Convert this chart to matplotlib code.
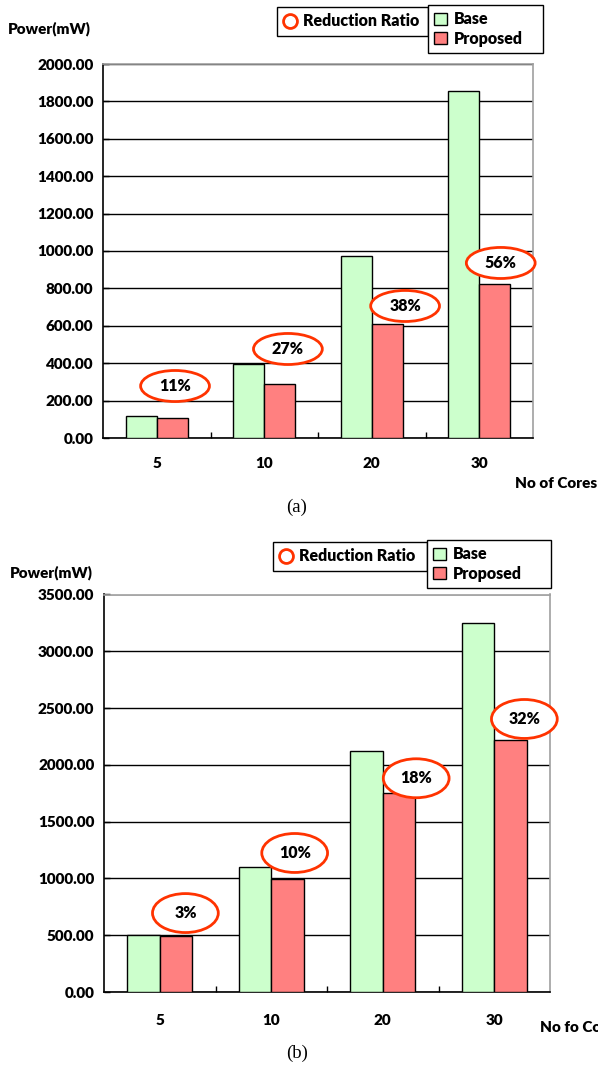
import matplotlib
matplotlib.use("Agg")
import matplotlib.pyplot as plt
import numpy as np
from matplotlib.patches import Ellipse, Patch
from matplotlib.lines import Line2D
from matplotlib.ticker import FixedLocator, FormatStrFormatter

plt.rcParams['font.family'] = ['Lato', 'DejaVu Sans']
plt.rcParams['font.weight'] = 'heavy'

# ---- data ----
cores = ['5', '10', '20', '30']

base_a = [120, 395, 975, 1855]
prop_a = [106, 290, 608, 825]
ratio_a = ['11%', '27%', '38%', '56%']

base_b = [504, 1100, 2118, 3251]
prop_b = [489, 995, 1752, 2218]
ratio_b = ['3%', '10%', '18%', '32%']

# where each ratio callout sits (x offset from group centre, y in mW)
callout_a = [(0.17, 278), (0.22, 476), (0.31, 706), (0.20, 936)]
callout_b = [(0.23, 695), (0.21, 1224), (0.30, 1882), (0.27, 2404)]

GREEN = '#CCFFCC'
RED = '#FF8080'
ORANGE = '#FF3300'
W, H = 598, 1067
FS = 11


def fx(px):
    return px / W


def fy(py):
    return 1 - py / H


fig = plt.figure(figsize=(W / 100, H / 100), dpi=100)


def draw_panel(rect, base, prop, ratios, callouts, ymax, ystep, ell_w, ell_h, xpad):
    ax = fig.add_axes(rect)
    x = np.arange(len(cores))
    bw = 0.29
    ax.bar(x - bw / 2, base, bw, color=GREEN, edgecolor='black', linewidth=1, zorder=3)
    ax.bar(x + bw / 2, prop, bw, color=RED, edgecolor='black', linewidth=1, zorder=3)

    for (dx, yy), txt, i in zip(callouts, ratios, x):
        ax.add_patch(Ellipse((i + dx, yy), ell_w, ell_h, facecolor='white',
                             edgecolor=ORANGE, linewidth=2, zorder=4, clip_on=False))
        ax.text(i + dx, yy, txt, ha='center', va='center', fontsize=11.5,
                fontweight='heavy', zorder=5)

    ax.set_xlim(-0.5, len(cores) - 0.5)
    ax.set_ylim(0, ymax)
    ax.set_yticks(np.arange(0, ymax + 1, ystep))
    ax.yaxis.set_major_formatter(FormatStrFormatter('%.2f'))
    ax.set_xticks(x)
    ax.set_xticklabels(cores)
    ax.xaxis.set_minor_locator(FixedLocator(x[:-1] + 0.5))
    ax.tick_params(axis='x', which='major', length=0, pad=xpad, labelsize=FS)
    ax.tick_params(axis='x', which='minor', direction='in', length=4, width=1)
    ax.tick_params(axis='y', direction='in', length=4, width=1, pad=7, labelsize=FS)
    for lab in ax.get_xticklabels() + ax.get_yticklabels():
        lab.set_fontweight('heavy')

    ax.grid(axis='y', color='black', linewidth=1)
    ax.set_axisbelow(True)
    for s in ['left', 'bottom']:
        ax.spines[s].set_color('black')
        ax.spines[s].set_linewidth(1.2)
    for s in ['top', 'right']:
        ax.spines[s].set_color('#A0A0A0')
        ax.spines[s].set_linewidth(1.2)
    return ax


def draw_legends(top_y, left_x, mid_x, right_x):
    h_ratio = [Line2D([], [], marker='o', linestyle='none', markersize=10,
                      markerfacecolor='white', markeredgecolor=ORANGE, markeredgewidth=2)]
    leg1 = fig.legend(h_ratio, ['Reduction Ratio'], loc='upper left', mode='expand',
                      bbox_to_anchor=(fx(left_x), fy(top_y + 2), fx(mid_x) - fx(left_x), 0),
                      frameon=True, fancybox=False, edgecolor='black', framealpha=1,
                      prop={'size': 11.5, 'weight': 'heavy'}, handlelength=0.8,
                      handletextpad=0.4, borderpad=0.4, borderaxespad=0)
    leg1.get_frame().set_linewidth(1)
    h_bars = [Patch(facecolor=GREEN, edgecolor='black'),
              Patch(facecolor=RED, edgecolor='black')]
    leg2 = fig.legend(h_bars, ['Base', 'Proposed'], loc='upper left', mode='expand',
                      bbox_to_anchor=(fx(mid_x), fy(top_y), fx(right_x) - fx(mid_x), 0),
                      frameon=True, fancybox=False, edgecolor='black', framealpha=1,
                      prop={'size': 11.5, 'weight': 'heavy'}, handlelength=0.8,
                      handleheight=0.8, handletextpad=0.4, borderpad=0.4,
                      labelspacing=0.2, borderaxespad=0)
    leg2.get_frame().set_linewidth(1)


# ---- panel (a) ----
draw_panel([fx(103), fy(438), fx(533) - fx(103), fy(64) - fy(438)],
           base_a, prop_a, ratio_a, callout_a, 2000, 200, 0.64, 166, 14)
draw_legends(5, 277, 428, 543)
fig.text(fx(8), fy(29), 'Power(mW)', fontsize=FS, fontweight='heavy', va='center')
fig.text(fx(515), fy(484), 'No of Cores', fontsize=FS, fontweight='heavy', va='center')
fig.text(fx(297), fy(507), '(a)', fontsize=13.5, family='Liberation Serif',
         fontweight='normal', ha='center', va='center')

# ---- panel (b) ----
draw_panel([fx(104), fy(992), fx(550) - fx(104), fy(594.5) - fy(992)],
           base_b, prop_b, ratio_b, callout_b, 3500, 500, 0.59, 343, 16)
draw_legends(540, 273, 427, 551)
fig.text(fx(10), fy(573), 'Power(mW)', fontsize=FS, fontweight='heavy', va='center')
fig.text(fx(540), fy(1027), 'No fo Cores', fontsize=FS, fontweight='heavy', va='center')
fig.text(fx(297), fy(1053), '(b)', fontsize=13.5, family='Liberation Serif',
         fontweight='normal', ha='center', va='center')

fig.savefig('out.png', dpi=100, facecolor='white')
